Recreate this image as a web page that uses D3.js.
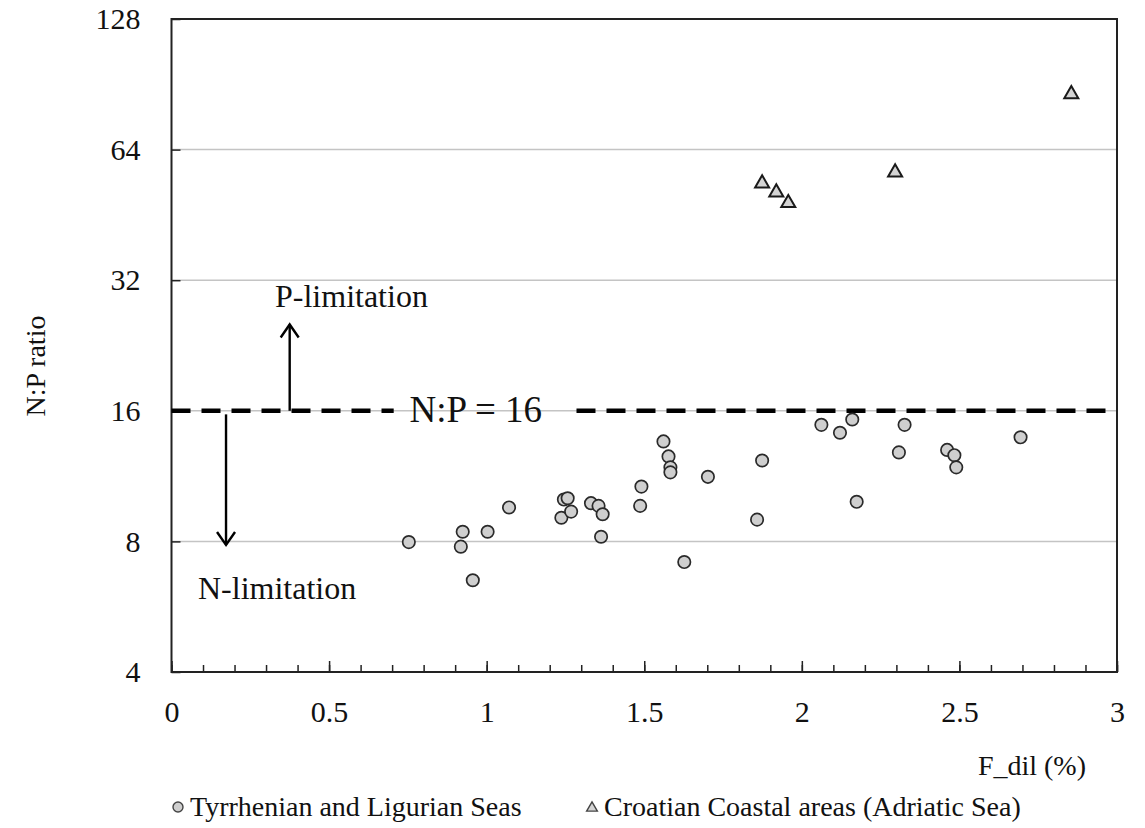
<!DOCTYPE html>
<html>
<head>
<meta charset="utf-8">
<script src="https://cdn.jsdelivr.net/npm/d3@7"></script>
<style>
  body { margin: 0; background: #fff; }
  svg text { font-family: "Liberation Serif", "DejaVu Serif", "Times New Roman", serif; fill: #111; }
</style>
</head>
<body>
<div id="chart"></div>
<script>
// Tyrrhenian and Ligurian Seas (circles)
const tlDil = [0.753, 0.924, 0.918, 0.956, 1.003, 1.071, 1.237, 1.245, 1.257, 1.268, 1.331, 1.355,
  1.368, 1.363, 1.487, 1.491, 1.561, 1.577, 1.583, 1.583, 1.627, 1.702, 1.874, 1.858, 2.062,
  2.121, 2.160, 2.174, 2.308, 2.326, 2.461, 2.484, 2.490, 2.694];
const tlRatio = [7.97, 8.42, 7.78, 6.51, 8.42, 9.58, 9.07, 9.99, 10.06, 9.37, 9.80, 9.66,
  9.24, 8.20, 9.66, 10.70, 13.6, 12.56, 11.85, 11.54, 7.17, 11.27, 12.29, 8.98, 14.85,
  14.24, 15.28, 9.87, 12.83, 14.85, 13.0, 12.64, 11.85, 13.9];

// Croatian Coastal areas (triangles)
const crDil = [1.874, 1.919, 1.957, 2.296, 2.855];
const crRatio = [53.5, 51.0, 48.2, 56.7, 85.9];

const yTicks = [4, 8, 16, 32, 64, 128];
const xTicks = [0, 0.5, 1, 1.5, 2, 2.5, 3];
const xMinor = d3.range(0, 31).map(i => i / 10);
const redfield = 16;
const seriesNames = ["Tyrrhenian and Ligurian Seas", "Croatian Coastal areas (Adriatic Sea)"];

const W = 1145, H = 828;
const plotL = 171.5, plotR = 1117, plotT = 19, plotB = 672;
const serif = "'Liberation Serif', 'DejaVu Serif', 'Times New Roman', serif";

const svg = d3.select("#chart").append("svg")
  .attr("width", W).attr("height", H);

const x = d3.scaleLinear().domain([0, 3]).range([plotL, plotR]);
const y = d3.scaleLog().base(2).domain([4, 128]).range([plotB, plotT]);

// gridlines
svg.append("g")
  .selectAll("line")
  .data(yTicks.filter(v => v > 4 && v < 128))
  .enter().append("line")
  .attr("x1", plotL).attr("x2", plotR)
  .attr("y1", d => y(d)).attr("y2", d => y(d))
  .attr("stroke", "#c4c4c4").attr("stroke-width", 1.5);

// y axis
const yAxis = svg.append("g")
  .attr("transform", `translate(${plotL},0)`)
  .call(d3.axisLeft(y).tickValues(yTicks).tickFormat(d3.format("d"))
    .tickSize(-9).tickPadding(31));
yAxis.attr("font-family", null);
yAxis.select(".domain").remove();
yAxis.selectAll("line").attr("stroke", "#222").attr("stroke-width", 1.5);
yAxis.selectAll("text").style("font-size", "30px")
  .style("font-family", serif).attr("fill", "#111");

// x axis: minor + major
const xMin = svg.append("g")
  .attr("transform", `translate(0,${plotB})`)
  .call(d3.axisBottom(x).tickValues(xMinor).tickFormat("").tickSize(-7));
xMin.select(".domain").remove();
xMin.selectAll("line").attr("stroke", "#222").attr("stroke-width", 1.5);

const xAxis = svg.append("g")
  .attr("transform", `translate(0,${plotB})`)
  .call(d3.axisBottom(x).tickValues(xTicks).tickFormat(d3.format("")).tickSize(-11).tickPadding(29));
xAxis.attr("font-family", null);
xAxis.select(".domain").remove();
xAxis.selectAll("line").attr("stroke", "#222").attr("stroke-width", 1.5);
xAxis.selectAll("text").style("font-size", "30px")
  .style("font-family", serif).attr("fill", "#111");

// frame
svg.append("rect")
  .attr("x", plotL).attr("y", plotT)
  .attr("width", plotR - plotL).attr("height", plotB - plotT)
  .attr("fill", "none").attr("stroke", "#222").attr("stroke-width", 2);

// N:P = 16 dashed line, broken for its label
const dashSegs = [[0, 0.705], [1.285, 2.975]];
svg.append("g").selectAll("line")
  .data(dashSegs).enter().append("line")
  .attr("x1", d => x(d[0])).attr("x2", d => x(d[1]))
  .attr("y1", y(redfield)).attr("y2", y(redfield))
  .attr("stroke", "#000").attr("stroke-width", 4.5)
  .attr("stroke-dasharray", "19,11");

svg.append("text")
  .attr("x", x(0.755)).attr("y", y(redfield) + 11)
  .style("font-size", "37px").style("font-family", serif)
  .text("N:P = 16");

// arrows
const arrowUp = { dil: 0.375, from: 16, to: 25.3 };
const arrowDown = { dil: 0.173, from: 15.7, to: 7.85 };
function arrow(a) {
  const x0 = x(a.dil), y0 = y(a.from), y1 = y(a.to);
  const dir = y1 < y0 ? 1 : -1;
  svg.append("line")
    .attr("x1", x0).attr("x2", x0).attr("y1", y0).attr("y2", y1)
    .attr("stroke", "#000").attr("stroke-width", 2.4);
  svg.append("path")
    .attr("d", `M${x0 - 9},${y1 + dir * 13} L${x0},${y1} L${x0 + 9},${y1 + dir * 13}`)
    .attr("fill", "none").attr("stroke", "#000").attr("stroke-width", 2.4);
}
arrow(arrowUp);
arrow(arrowDown);

svg.append("text").attr("x", 275).attr("y", 307)
  .style("font-size", "32px").style("font-family", serif).text("P-limitation");
svg.append("text").attr("x", 198).attr("y", 599)
  .style("font-size", "32px").style("font-family", serif).text("N-limitation");

// points
const tlData = tlDil.map((d, i) => ({ x: d, y: tlRatio[i] }));
const crData = crDil.map((d, i) => ({ x: d, y: crRatio[i] }));

svg.append("g").selectAll("circle")
  .data(tlData).enter().append("circle")
  .attr("cx", d => x(d.x)).attr("cy", d => y(d.y)).attr("r", 6.2)
  .attr("fill", "#cfcfcf").attr("stroke", "#2a2a2a").attr("stroke-width", 1.7);

const tri = d3.symbol().type(d3.symbolTriangle).size(85);
svg.append("g").selectAll("path")
  .data(crData).enter().append("path")
  .attr("transform", d => `translate(${x(d.x)},${y(d.y)})`)
  .attr("d", tri)
  .attr("fill", "#d4d4d4").attr("stroke", "#1a1a1a").attr("stroke-width", 2);

// axis titles
svg.append("text")
  .attr("transform", `translate(45,366) rotate(-90)`)
  .attr("text-anchor", "middle")
  .style("font-size", "28px").style("font-family", serif)
  .text("N:P ratio");

svg.append("text")
  .attr("x", 1086).attr("y", 775)
  .attr("text-anchor", "end")
  .style("font-size", "28px").style("font-family", serif)
  .text("F_dil (%)");

// legend
const lg = svg.append("g");
lg.append("circle").attr("cx", 178).attr("cy", 807).attr("r", 5)
  .attr("fill", "#cfcfcf").attr("stroke", "#444").attr("stroke-width", 1.4);
lg.append("text").attr("x", 190).attr("y", 816)
  .style("font-size", "28px").style("font-family", serif).text(seriesNames[0]);
lg.append("path")
  .attr("transform", "translate(592,808)")
  .attr("d", d3.symbol().type(d3.symbolTriangle).size(50))
  .attr("fill", "#d4d4d4").attr("stroke", "#444").attr("stroke-width", 1.4);
lg.append("text").attr("x", 604).attr("y", 816)
  .style("font-size", "28px").style("font-family", serif).text(seriesNames[1]);
</script>
</body>
</html>
